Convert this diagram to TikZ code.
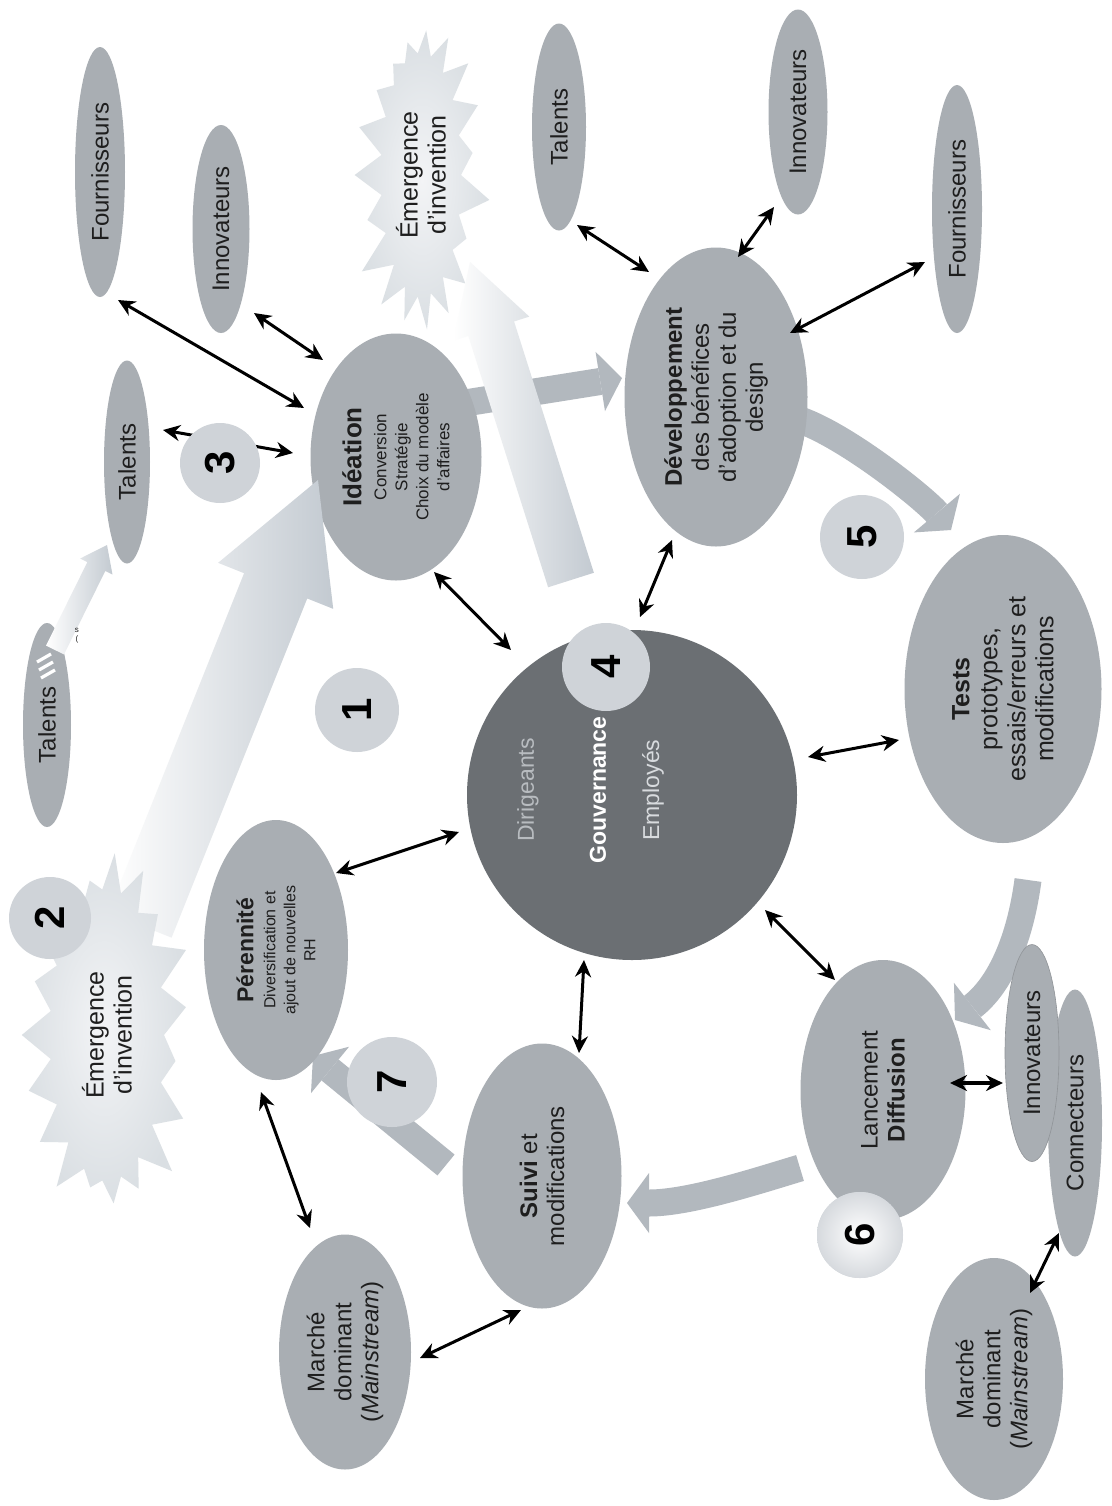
\documentclass[tikz,border=0pt]{standalone}
\usepackage{fontspec}
\setmainfont{Liberation Sans}
\usetikzlibrary{shapes.geometric,shapes.symbols,arrows.meta,calc}

\definecolor{ink}{HTML}{1E1E1E}
\definecolor{ellfill}{HTML}{A9AEB3}
\definecolor{flowgray}{HTML}{B2B8BE}
\definecolor{numfill}{HTML}{CFD3D8}
\definecolor{hubfill}{HTML}{6B6F73}
\definecolor{burstin}{HTML}{F3F4F6}
\definecolor{burstout}{HTML}{DADFE3}
\definecolor{tubedark}{HTML}{C3CAD1}
\definecolor{dirigtext}{HTML}{B8BCC0}
\definecolor{emptext}{HTML}{D8DBDE}

\pgfdeclarelayer{bg}
\pgfdeclarelayer{back}
\pgfdeclarelayer{over}
\pgfdeclarelayer{top}
\pgfsetlayers{bg,back,main,over,top}

% wide shaded arrow from a tail coordinate to a tip coordinate
\newcommand{\tubearrow}[5]{% tail, tip, half shaft, half head, head length
  \coordinate (tbbase) at ($(#2)!#5!(#1)$);
  \shade[tube] ($(#1)!#3!90:(#2)$) -- ($(tbbase)!#3!90:(#2)$) -- ($(tbbase)!#4!90:(#2)$)
    -- (#2) -- ($(tbbase)!#4!-90:(#2)$) -- ($(tbbase)!#3!-90:(#2)$) -- ($(#1)!#3!-90:(#2)$) -- cycle;
}

\begin{document}
\begin{tikzpicture}[x=0.5pt,y=-0.5pt,
  every node/.style={text=ink},
  ell/.style={ellipse, fill=ellfill, inner sep=0pt, rotate=90, align=center,
    font=\fontsize{12}{13.5}\selectfont},
  numc/.style={circle, fill=numfill, inner sep=0pt, rotate=90, minimum size=#1,
    font=\fontsize{21}{21}\selectfont\bfseries, text=black},
  link/.style={{Stealth[length=8.5pt,width=8pt]}-{Stealth[length=8.5pt,width=8pt]},
    line width=1.5pt, draw=black},
  flow/.style={draw=flowgray, line width=13.5pt,
    -{Triangle[width=30pt,length=11pt,line width=0pt]}},
  burst/.style={starburst, starburst points=19, starburst point height=20pt,
    inner sep=0pt, rotate=90, align=center, inner color=burstin, outer color=burstout,
    font=\fontsize{12.5}{14}\selectfont},
  tube/.style={left color=white, right color=tubedark}
]
\useasboundingbox (0,0) rectangle (1112,1506);
\begin{pgfonlayer}{bg}
\fill[white] (0,0) rectangle (1112,1506);
\end{pgfonlayer}

% ---------- satellite ellipses ----------
\node[ell, minimum width=125pt, minimum height=25pt] (fournA) at (100,172) {Fournisseurs};
\node[ell, minimum width=104pt, minimum height=28.5pt] (innovA) at (221,229) {Innovateurs};
\node[ell, minimum width=101.5pt, minimum height=23pt] (talA) at (127,462) {Talents};
\node[ell, minimum width=103.5pt, minimum height=27pt] (talB) at (559,127) {Talents};
\node[ell, minimum width=102.5pt, minimum height=29.5pt] (innovB) at (798,112) {Innovateurs};
\node[ell, minimum width=124pt, minimum height=25pt] (fournB) at (957,209) {Fournisseurs};
\node[ell, minimum width=102pt, minimum height=24pt] (talC) at (47,725) {Talents};
\node[ell, minimum width=133.5pt, minimum height=27pt] (connect) at (1075,1123) {Connecteurs};
\node[ell, minimum width=108.5pt, minimum height=27pt, draw=ellfill!85!black, line width=0.3pt] (innovC) at (1032,1053) {Innovateurs};
\node[ell, minimum width=117.5pt, minimum height=66pt] (marcheA) at (345,1352) {Marché\\dominant\\(\textit{Mainstream})};
\node[ell, minimum width=121pt, minimum height=69pt] (marcheB) at (994,1379) {Marché\\dominant\\(\textit{Mainstream})};

% ---------- process stages ----------
\node[ell, minimum width=123.5pt, minimum height=85.5pt, font=\fontsize{8.5}{10.5}\selectfont] (ideation) at (396,457)
  {{\fontsize{13}{15}\selectfont\bfseries Idéation}\\[2pt]Conversion\\Stratégie\\Choix du modèle\\d'affaires};
\node[ell, minimum width=149.5pt, minimum height=91.5pt] (dev) at (716,397)
  {{\bfseries Développement}\\des bénéfices\\d'adoption et du\\design};
\node[ell, minimum width=154pt, minimum height=98.5pt, font=\fontsize{12.5}{14}\selectfont] (tests) at (1003,689)
  {{\bfseries Tests}\\prototypes,\\essais/erreurs et\\modifications};
\node[ell, minimum width=130pt, minimum height=82.5pt] (lancement) at (883,1090)
  {Lancement\\{\bfseries Diffusion}};
\node[ell, minimum width=132.5pt, minimum height=79.5pt] (suivi) at (542,1176)
  {{\bfseries Suivi} et\\modifications};
\node[ell, minimum width=130pt, minimum height=72pt, font=\fontsize{8}{10}\selectfont] (perennite) at (276,950)
  {{\fontsize{11.5}{13}\selectfont\bfseries Pérennité}\\[1pt]Diversification et\\ajout de nouvelles\\RH};

% ---------- governance hub ----------
\node[circle, fill=hubfill, minimum size=165pt, inner sep=0pt] (hub) at (632,795) {};
\node[rotate=90, text=dirigtext, font=\fontsize{11.5}{12}\selectfont] (dirig) at (528,790) {Dirigeants};
\node[rotate=90, text=white, font=\fontsize{11.5}{12}\selectfont\bfseries] (gouv) at (598,790) {Gouvernance};
\node[rotate=90, text=emptext, font=\fontsize{11.5}{12}\selectfont] (employ) at (653,790) {Employés};

% ---------- invention burst (top) ----------
\node[burst, random starburst=41, minimum width=162pt, minimum height=80pt] (emergA) at (421,175)
  {Émergence\\d'invention};

% ---------- stage flow arrows ----------
\begin{pgfonlayer}{back}
\draw[flow] ([shift={(69,-54)}]ideation.center) -- ([shift={(-94,-19)}]dev.center);
\draw[flow] ([shift={(84,23)}]dev.center) .. controls (848,437) and (925,499) .. ([shift={(-52,-159)}]tests.center);
\draw[flow] ([shift={(25,191)}]tests.center) .. controls (1020,940) and (1000,985) .. ([shift={(72,-70)}]lancement.center);
\draw[flow] ([shift={(-83,78)}]lancement.center) .. controls (760,1180) and (690,1203) .. ([shift={(85,27)}]suivi.center);
\draw[flow] ([shift={(-96,-11)}]suivi.center) -- ([shift={(37,106)}]perennite.center);
\end{pgfonlayer}

% ---------- two-way links ----------
\draw[link] ([shift={(18,128)}]fournA.center) -- ([shift={(-92,-49)}]ideation.center);
\draw[link] ([shift={(33,84)}]innovA.center) -- ([shift={(-73,-97)}]ideation.center);
\draw[link] ([shift={(36,-32)}]talA.center) -- ([shift={(-103,-4)}]ideation.center);
\draw[link] ([shift={(18,98)}]talB.center) -- ([shift={(-67,-125)}]dev.center);
\draw[link] ([shift={(-24,95)}]innovB.center) -- ([shift={(22,-140)}]dev.center);
\draw[link] ([shift={(-32,53)}]fournB.center) -- ([shift={(74,-64)}]dev.center);
\draw[link] ([shift={(38,115)}]ideation.center) -- ([shift={(-121,-145)}]hub.center);
\draw[link] ([shift={(-44,143)}]dev.center) -- ([shift={(8,-178)}]hub.center);
\draw[link] ([shift={(60,-77)}]perennite.center) -- ([shift={(-173,37)}]hub.center);
\draw[link] ([shift={(176,-38)}]hub.center) -- ([shift={(-104,51)}]tests.center);
\draw[link] ([shift={(133,115)}]hub.center) -- ([shift={(-48,-110)}]lancement.center);
\draw[link] ([shift={(-48,165)}]hub.center) -- ([shift={(37,-123)}]suivi.center);
\draw[link] ([shift={(-15,142)}]perennite.center) -- ([shift={(-35,-124)}]marcheA.center);
\draw[link] ([shift={(75,6)}]marcheA.center) -- ([shift={(-21,134)}]suivi.center);
\draw[link, line width=2.4pt] ([shift={(67,-7)}]lancement.center) -- ([shift={(-29,30)}]innovC.center);
\draw[link] ([shift={(-16,110)}]connect.center) -- ([shift={(36,-86)}]marcheB.center);

% ---------- shaded invention arrows ----------
\coordinate (tailA) at (140,925);
\coordinate (tipA) at (318,480);
\coordinate (tailB) at (571,580);
\coordinate (tipB) at (470,262);
\coordinate (tailC) at (55,650);
\coordinate (tipC) at (107,545);
\begin{pgfonlayer}{over}
\tubearrow{tailA}{tipA}{17pt}{31pt}{57pt}
\tubearrow{tailB}{tipB}{12pt}{20pt}{35pt}
\tubearrow{tailC}{tipC}{5pt}{9pt}{12pt}
\draw[white, line width=1.6pt] (37,662) -- (51,654) (39,670) -- (53,662) (41,678) -- (55,670);
\node[font=\fontsize{4}{4.5}\selectfont, inner sep=0pt, align=center] (mark) at (77,636) {s\\(};
\end{pgfonlayer}

\begin{pgfonlayer}{top}
\node[burst, random starburst=77, minimum width=186pt, minimum height=97pt] (emergB) at (107,1035)
  {Émergence\\d'invention};
\node[numc=42pt] (n1) at (357,710) {1};
\node[numc=41pt] (n2) at (50,918) {2};
\node[numc=40pt] (n3) at (220,463) {3};
\node[numc=44pt] (n4) at (606,667) {4};
\node[numc=42pt] (n5) at (862,537) {5};
\node[numc=43pt, inner color=white, outer color=numfill!85] (n6) at (860,1235) {6};
\node[numc=45pt] (n7) at (392,1082) {7};
\end{pgfonlayer}
\end{tikzpicture}
\end{document}
